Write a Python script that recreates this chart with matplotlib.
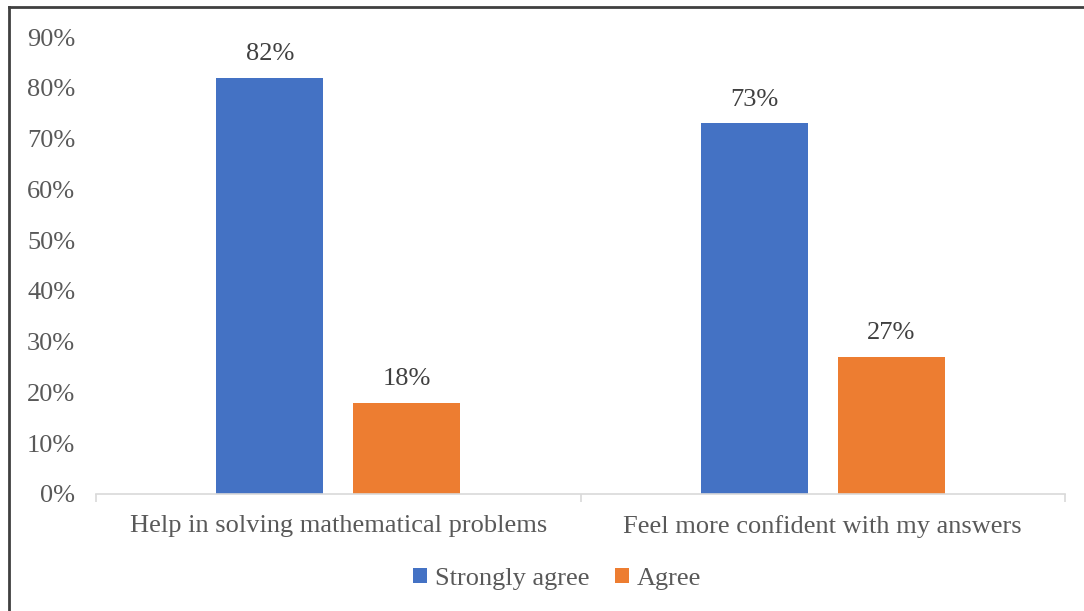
import matplotlib.pyplot as plt
from matplotlib.lines import Line2D
import numpy as np

categories = ["Help in solving mathematical problems", "Feel more confident with my answers"]
strongly_agree = [82, 73]
agree = [18, 27]
series_names = ["Strongly agree", "Agree"]
yticks = [0, 10, 20, 30, 40, 50, 60, 70, 80, 90]

plt.rcParams['font.family'] = ['Liberation Serif', 'DejaVu Serif']
grey = '#595959'
fs = 19

fig = plt.figure(figsize=(10.84, 6.11), dpi=100)
ax = fig.add_axes([0.0886, 0.1915, 0.8939, 0.7479])

x = np.arange(len(categories))
w = 0.221
off = 0.1414
b1 = ax.bar(x - off, strongly_agree, w, color='#4472C4', label=series_names[0])
b2 = ax.bar(x + off, agree, w, color='#ED7D31', label=series_names[1])

for bars, vals in ((b1, strongly_agree), (b2, agree)):
    for r, v in zip(bars, vals):
        ax.annotate(f"{v}%", (r.get_x() + r.get_width() / 2, v), xytext=(0, 12.6),
                    textcoords='offset points', ha='center', va='baseline',
                    fontsize=fs, color='#404040')

ax.set_xlim(-0.5, 1.5)
ax.set_ylim(0, 90)
ax.set_yticks(yticks)
ax.set_yticklabels([f"{t}%" for t in yticks], fontsize=fs, color=grey)
ax.tick_params(axis='y', length=0, pad=15)

ax.set_xticks(x)
ax.set_xticklabels(categories, fontsize=fs, color=grey)
ax.tick_params(axis='x', length=0, pad=15)
ax.set_xticks([-0.5, 0.5, 1.5], minor=True)
ax.tick_params(axis='x', which='minor', length=6, color='#d9d9d9', width=1.2)

for s in ['top', 'right', 'left']:
    ax.spines[s].set_visible(False)
ax.spines['bottom'].set_color('#d9d9d9')
ax.spines['bottom'].set_linewidth(1.2)

ax.legend(loc='center', bbox_to_anchor=(0.514, 0.052), bbox_transform=fig.transFigure,
          ncol=2, frameon=False, fontsize=fs, handlelength=0.5, handleheight=0.5,
          handletextpad=0.3, columnspacing=1.0, labelcolor=grey)

# frame lines on the left and top of the picture
fig.add_artist(Line2D([8.5 / 1084, 8.5 / 1084], [0, 1 - 6.5 / 611], color='#404040', lw=2,
                      transform=fig.transFigure))
fig.add_artist(Line2D([8.5 / 1084, 1], [1 - 6.5 / 611, 1 - 6.5 / 611], color='#404040', lw=2,
                      transform=fig.transFigure))

fig.savefig('out.png', dpi=100)
